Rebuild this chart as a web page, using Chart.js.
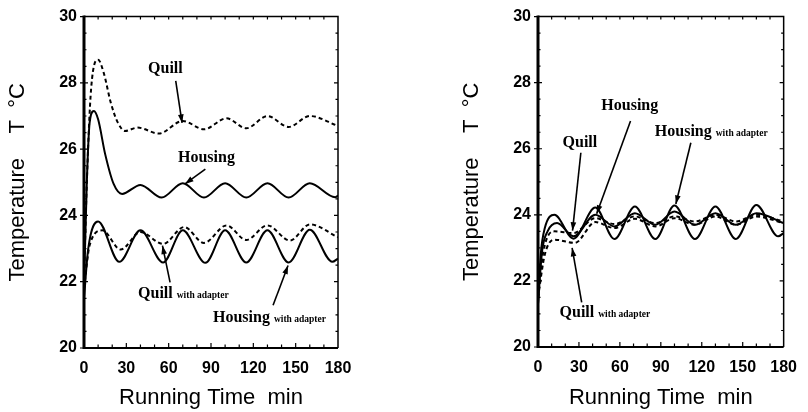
<!DOCTYPE html>
<html><head><meta charset="utf-8">
<script src="https://cdn.jsdelivr.net/npm/chart.js@4/dist/chart.umd.min.js"></script>
<style>
html,body{margin:0;padding:0;background:#fff;width:808px;height:412px;overflow:hidden}
.box{position:absolute;top:0;height:412px}
</style></head><body>
<div class="box" style="left:0;width:400px"><canvas id="left" width="400" height="412"></canvas></div>
<div class="box" style="left:400px;width:408px"><canvas id="right" width="408" height="412"></canvas></div>
<script>
// ---------- data: left panel ----------
const xTickLabels = [0, 30, 60, 90, 120, 150, 180];
const yTickLabels = [20, 22, 24, 26, 28, 30];

const L_quillTime   = [0, 2, 5, 10, 14, 19, 24, 29, 38, 53, 70, 85, 101, 115, 130, 145, 160, 180];
const L_quillTemp   = [22.0, 25.0, 27.8, 28.7, 28.3, 27.4, 26.8, 26.55, 26.65, 26.47, 26.85, 26.6, 26.93, 26.63, 27.0, 26.67, 27.0, 26.7];
const L_housTime    = [0, 2, 4, 7, 10, 15, 21, 27, 40, 55, 70, 85, 100, 115, 130, 145, 160, 178, 180];
const L_housTemp    = [21.8, 25.0, 26.8, 27.15, 26.9, 25.85, 24.95, 24.65, 24.92, 24.54, 24.97, 24.54, 24.97, 24.54, 24.97, 24.54, 24.97, 24.55, 24.6];
const L_housAdTime  = [0, 3, 10, 25, 40, 56, 70, 86, 100, 115, 130, 145, 160, 176, 180];
const L_housAdTemp  = [21.5, 23.0, 23.82, 22.6, 23.55, 22.58, 23.55, 22.57, 23.55, 22.58, 23.55, 22.58, 23.57, 22.6, 22.7];
const L_quillAdTime = [0, 4, 13, 26, 40, 56, 71, 85, 101, 115, 130, 146, 160, 180];
const L_quillAdTemp = [21.8, 23.1, 23.55, 22.97, 23.5, 23.14, 23.65, 23.17, 23.7, 23.26, 23.7, 23.24, 23.73, 23.34];

// ---------- data: right panel ----------
const R_housTime    = [0, 3, 7, 14, 26, 42, 56, 71, 86, 100, 115, 130, 145, 160, 180];
const R_housTemp    = [21.3, 22.9, 23.5, 23.75, 23.35, 24.0, 23.65, 24.05, 23.7, 24.1, 23.7, 24.05, 23.7, 24.05, 23.75];
const R_housAdTime  = [0, 2, 5, 12, 26, 42, 56, 71, 86, 100, 115, 130, 145, 160, 176, 180];
const R_housAdTemp  = [21.3, 22.8, 23.6, 24.0, 23.28, 24.22, 23.27, 24.25, 23.27, 24.28, 23.27, 24.25, 23.27, 24.3, 23.35, 23.45];
const R_quillTime   = [0, 4, 12, 26, 42, 56, 71, 86, 100, 115, 130, 145, 160, 180];
const R_quillTemp   = [21.5, 22.9, 23.5, 23.45, 23.9, 23.72, 23.95, 23.75, 23.95, 23.8, 24.0, 23.8, 24.0, 23.8];
const R_quillAdTime = [0, 5, 12, 27, 42, 56, 71, 86, 100, 115, 130, 145, 160, 180];
const R_quillAdTemp = [21.5, 22.8, 23.25, 23.15, 23.78, 23.6, 23.88, 23.65, 23.9, 23.7, 23.95, 23.7, 23.95, 23.75];

const seriesNames = ['Quill', 'Housing', 'Housing with adapter', 'Quill with adapter'];

// annotation config (data units)
const L_notes = [
  {main:'Quill', sub:'', at:[45.4, 28.44], from:[65, 28.06], to:[69.5, 26.79]},
  {main:'Housing', sub:'', at:[66.6, 25.77], from:[86, 25.4], to:[71.6, 24.95]},
  {main:'Quill', sub:'with adapter', at:[38.3, 21.65], from:[61, 21.98], to:[55.6, 23.09]},
  {main:'Housing', sub:'with adapter', at:[91.4, 20.93], from:[134, 21.29], to:[144.6, 22.49]}
];
const R_notes = [
  {main:'Housing', sub:'', at:[46.4, 27.32], from:[67.8, 26.84], to:[43, 24.03]},
  {main:'Housing', sub:'with adapter', at:[85.6, 26.54], from:[112, 26.18], to:[101, 24.33]},
  {main:'Quill', sub:'', at:[18, 26.2], from:[31.4, 25.88], to:[25.3, 23.52]},
  {main:'Quill', sub:'with adapter', at:[15.8, 21.05], from:[32, 21.35], to:[25, 23.0]}
];

const pts = (xs, ys) => xs.map((x, i) => ({x, y: ys[i]}));
function ds(label, xs, ys, dashed) {
  return {label, data: pts(xs, ys), borderColor:'#000', borderWidth: 2,
    borderDash: dashed ? [4, 3] : [], pointRadius:0, fill:false,
    cubicInterpolationMode:'monotone'};
}

const framePlugin = {
  id:'frame',
  afterDatasetsDraw(chart, args, opts) {
    const {ctx, chartArea:a, scales:{x, y}} = chart;
    ctx.save();
    ctx.strokeStyle = '#000';
    ctx.lineWidth = 1.5;
    ctx.beginPath();
    ctx.moveTo(a.left, a.top); ctx.lineTo(a.right, a.top); ctx.lineTo(a.right, a.bottom);
    ctx.stroke();
    ctx.lineWidth = 2;
    ctx.beginPath(); ctx.moveTo(a.left, a.bottom); ctx.lineTo(a.right, a.bottom); ctx.stroke();
    ctx.lineWidth = 3;
    ctx.beginPath(); ctx.moveTo(a.left, a.top - 1); ctx.lineTo(a.left, a.bottom + 1); ctx.stroke();
    // minor ticks
    ctx.lineWidth = 1.2;
    ctx.beginPath();
    for (let t = 10; t < 180; t += 10) {
      const px = x.getPixelForValue(t);
      const len = (t % 30 === 0) ? 5 : 3.5;
      ctx.moveTo(px, a.bottom); ctx.lineTo(px, a.bottom - len);
      ctx.moveTo(px, a.top); ctx.lineTo(px, a.top + 3);
    }
    for (let v = 20.5; v < 30; v += 0.5) {
      const py = y.getPixelForValue(v);
      ctx.moveTo(a.right, py); ctx.lineTo(a.right - (v % 2 === 0 ? 4 : 2.5), py);
      ctx.moveTo(a.left, py); ctx.lineTo(a.left + (v % 2 === 0 ? 4 : 2.5), py);
    }
    for (let v = 20; v <= 30; v += 2) {
      const py = y.getPixelForValue(v);
      ctx.moveTo(a.left, py); ctx.lineTo(a.left - 4, py);
    }
    ctx.stroke();
    // annotations
    const notes = opts.notes || [];
    ctx.fillStyle = '#000';
    ctx.textBaseline = 'alphabetic';
    ctx.textAlign = 'left';
    for (const n of notes) {
      const tx = x.getPixelForValue(n.at[0]);
      const ty = y.getPixelForValue(n.at[1]) + 5;
      ctx.font = 'bold 16px "Liberation Serif", "Times New Roman", serif';
      ctx.fillText(n.main, tx, ty);
      if (n.sub) {
        const w = ctx.measureText(n.main).width;
        ctx.font = 'bold 9.5px "Liberation Serif", "Times New Roman", serif';
        ctx.fillText(n.sub, tx + w + 4, ty);
      }
      const x1 = x.getPixelForValue(n.from[0]), y1 = y.getPixelForValue(n.from[1]);
      const x2 = x.getPixelForValue(n.to[0]), y2 = y.getPixelForValue(n.to[1]);
      ctx.lineWidth = 1.6;
      ctx.beginPath(); ctx.moveTo(x1, y1); ctx.lineTo(x2, y2); ctx.stroke();
      const ang = Math.atan2(y2 - y1, x2 - x1), L = 9, W = 0.32;
      ctx.beginPath();
      ctx.moveTo(x2, y2);
      ctx.lineTo(x2 - L * Math.cos(ang - W), y2 - L * Math.sin(ang - W));
      ctx.lineTo(x2 - L * Math.cos(ang + W), y2 - L * Math.sin(ang + W));
      ctx.closePath(); ctx.fill();
    }
    ctx.restore();
  }
};

function makeChart(id, datasets, notes, yWidth, xHeight, padRight, yTitlePad) {
  return new Chart(document.getElementById(id), {
    type:'line',
    data:{datasets},
    plugins:[framePlugin],
    options:{
      responsive:false, animation:false,
      layout:{padding:{left:0, right:padRight, top:15, bottom:0}},
      plugins:{legend:{display:false}, tooltip:{enabled:false}, frame:{notes}},
      scales:{
        x:{type:'linear', min:0, max:180,
          afterBuildTicks: s => { s.ticks = xTickLabels.map(v => ({value:v})); },
          afterFit: s => { s.height = xHeight; },
          grid:{display:false, drawTicks:false}, border:{display:false},
          ticks:{color:'#000', padding:11, maxRotation:0, autoSkip:false,
            font:{family:'"Liberation Sans", Arial, sans-serif', size:16, weight:'bold'}},
          title:{display:true, text:'Running Time  min', color:'#000',
            padding:{top:0, bottom:1},
            font:{family:'"Liberation Sans", Arial, sans-serif', size:22}}
        },
        y:{type:'linear', min:20, max:30,
          afterBuildTicks: s => { s.ticks = yTickLabels.map(v => ({value:v})); },
          afterFit: s => { s.width = yWidth; },
          grid:{display:false, drawTicks:false}, border:{display:false},
          ticks:{color:'#000', padding:7,
            font:{family:'"Liberation Sans", Arial, sans-serif', size:16, weight:'bold'}},
          title:{display:true, text:'Temperature    T  °C', color:'#000',
            padding:{top:yTitlePad, bottom:0},
            font:{family:'"Liberation Sans", Arial, sans-serif', size:22}}
        }
      }
    }
  });
}

makeChart('left', [
  ds(seriesNames[0], L_quillTime, L_quillTemp, true),
  ds(seriesNames[1], L_housTime, L_housTemp, false),
  ds(seriesNames[2], L_housAdTime, L_housAdTemp, false),
  ds(seriesNames[3], L_quillAdTime, L_quillAdTemp, true)
], L_notes, 84, 64, 62, 5);

makeChart('right', [
  ds(seriesNames[0], R_quillTime, R_quillTemp, true),
  ds(seriesNames[1], R_housTime, R_housTemp, false),
  ds(seriesNames[2], R_housAdTime, R_housAdTemp, false),
  ds(seriesNames[3], R_quillAdTime, R_quillAdTemp, true)
], R_notes, 138, 65, 17, 59);
</script>
</body></html>
